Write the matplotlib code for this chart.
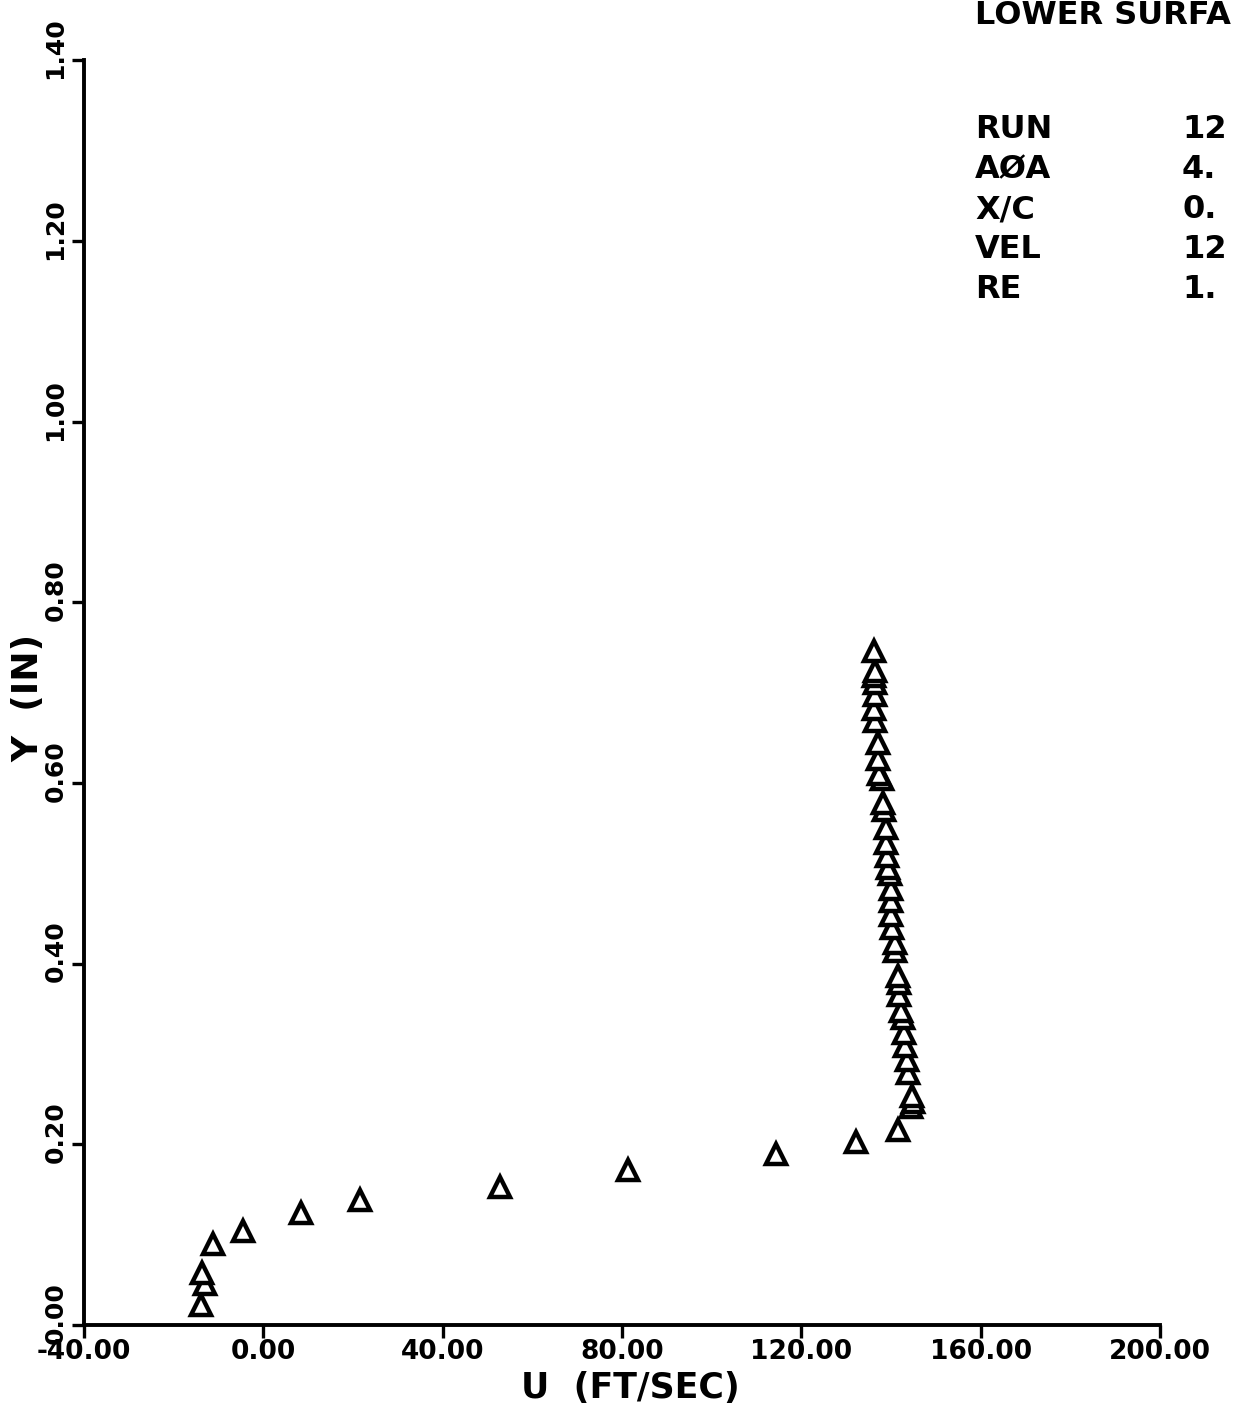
import numpy as np
import matplotlib.pyplot as plt
import matplotlib.transforms as mtransforms

# velocity profile, lower surface
u_vel = [-13.9, -13.0, -13.7, -11.3, -4.5, 8.3, 21.6, 52.7, 81.4, 114.4, 132.1,
         141.5, 144.4, 145.0, 144.8, 143.9, 143.5, 143.2, 143.0, 142.6, 142.3,
         141.9, 141.7, 141.5, 141.0, 140.8, 140.3, 140.1, 139.9, 139.9, 139.7,
         139.4, 139.2, 139.0, 138.8, 138.5, 138.3, 137.9, 137.4, 137.2, 137.0,
         136.5, 136.3, 136.5, 136.5, 136.3, 136.5, 136.3]
y_in = [0.022, 0.045, 0.058, 0.090, 0.104, 0.124, 0.138, 0.153, 0.172, 0.189, 0.202,
        0.216, 0.241, 0.247, 0.254, 0.279, 0.293, 0.309, 0.323, 0.340, 0.348,
        0.365, 0.378, 0.386, 0.414, 0.423, 0.439, 0.454, 0.469, 0.483, 0.499,
        0.506, 0.519, 0.533, 0.550, 0.570, 0.578, 0.604, 0.610, 0.627, 0.644,
        0.669, 0.682, 0.697, 0.711, 0.718, 0.724, 0.746]

x_ticks = [-40, 0, 40, 80, 120, 160, 200]
y_ticks = [0.0, 0.2, 0.4, 0.6, 0.8, 1.0, 1.2, 1.4]

info_names = ["RUN", "A\u00d8A", "X/C", "VEL", "RE"]
info_vals = ["12", "4.", "0.", "12", "1."]

fig = plt.figure(figsize=(12.54, 14.10), dpi=100)
ax = fig.add_axes([0.067, 0.0603, 0.858, 0.897])

ax.plot(u_vel, y_in, linestyle='none', marker='^', ms=15, mfc='white',
        mec='black', mew=3.2, clip_on=False)

ax.set_xlim(-40, 200)
ax.set_ylim(0, 1.4)
ax.set_xticks(x_ticks)
ax.set_yticks(y_ticks)
ax.set_xticklabels(["%.2f" % v for v in x_ticks], fontsize=19, fontweight='bold')
ax.set_yticklabels(["%.2f" % v for v in y_ticks], fontsize=18, fontweight='bold',
                   rotation=90, va='center')
ax.tick_params(axis='both', direction='out', length=9, width=2.4, color='black')
ax.tick_params(axis='x', pad=1)
ax.tick_params(axis='y', pad=3)

# plotter put the y labels a little above their ticks
shift = mtransforms.ScaledTranslation(0, 12 / 100, fig.dpi_scale_trans)
for lab in ax.get_yticklabels():
    lab.set_transform(lab.get_transform() + shift)

for s in ['top', 'right']:
    ax.spines[s].set_visible(False)
for s in ['left', 'bottom']:
    ax.spines[s].set_linewidth(2.8)

fig.text(630 / 1254, 1 - 1388 / 1410, "U  (FT/SEC)", fontsize=25, fontweight='bold',
         ha='center', va='center')
fig.text(28 / 1254, 1 - 698 / 1410, "Y  (IN)", fontsize=26, fontweight='bold',
         ha='center', va='center', rotation=90)

fig.text(975 / 1254, 1 - 16 / 1410, "LOWER SURFA", fontsize=23, fontweight='bold',
         ha='left', va='center')
for i in range(len(info_names)):
    yy = 1 - (130 + 40 * i) / 1410
    fig.text(975 / 1254, yy, info_names[i], fontsize=23, fontweight='bold',
             ha='left', va='center')
    fig.text(1182 / 1254, yy, info_vals[i], fontsize=23, fontweight='bold',
             ha='left', va='center')

fig.savefig("out.png", dpi=100, facecolor='white')
